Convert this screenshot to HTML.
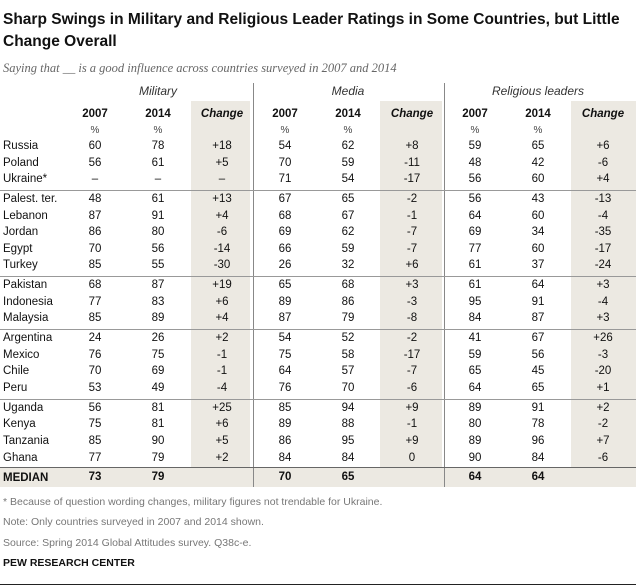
<!DOCTYPE html>
<html><head><meta charset="utf-8"><style>
body{margin:0;width:636px;height:586px;background:#fff;position:relative;font-family:"Liberation Sans",sans-serif;color:#111;overflow:hidden}
.a{position:absolute;white-space:nowrap}
.c{position:absolute;transform:translateX(-50%);white-space:nowrap;font-size:11.5px}
.sh{position:absolute;background:#ece9e2}
.hl{position:absolute;left:0;width:636px;height:1px;background:#999}
.vl{position:absolute;width:1px;background:#888}
.fn{position:absolute;left:3px;font-size:10.5px;color:#777}
</style></head><body>
<div class="a" style="left:3px;top:9px;font-size:15.5px;font-weight:bold;line-height:22px;white-space:normal;width:630px">Sharp Swings in Military and Religious Leader Ratings in Some Countries, but Little Change Overall</div>
<div class="a" style="left:3px;top:61px;font-family:'Liberation Serif',serif;font-style:italic;font-size:12.5px;color:#666">Saying that __ is a good influence across countries surveyed in 2007 and 2014</div>
<div id="t"></div>
<div class="fn" style="top:496px">* Because of question wording changes, military figures not trendable for Ukraine.</div>
<div class="fn" style="top:516px">Note: Only countries surveyed in 2007 and 2014 shown.</div>
<div class="fn" style="top:537px">Source: Spring 2014 Global Attitudes survey. Q38c-e.</div>
<div class="a" style="left:3px;top:557px;font-size:10.5px;font-weight:bold">PEW RESEARCH CENTER</div>
<div class="hl" style="top:584px;background:#222"></div>
<script>
const countries=["Russia","Poland","Ukraine*","Palest. ter.","Lebanon","Jordan","Egypt","Turkey","Pakistan","Indonesia","Malaysia","Argentina","Mexico","Chile","Peru","Uganda","Kenya","Tanzania","Ghana"];
const mil07=["60","56","–","48","87","86","70","85","68","77","85","24","76","70","53","56","75","85","77"];
const mil14=["78","61","–","61","91","80","56","55","87","83","89","26","75","69","49","81","81","90","79"];
const milCh=["+18","+5","–","+13","+4","-6","-14","-30","+19","+6","+4","+2","-1","-1","-4","+25","+6","+5","+2"];
const med07=["54","70","71","67","68","69","66","26","65","89","87","54","75","64","76","85","89","86","84"];
const med14=["62","59","54","65","67","62","59","32","68","86","79","52","58","57","70","94","88","95","84"];
const medCh=["+8","-11","-17","-2","-1","-7","-7","+6","+3","-3","-8","-2","-17","-7","-6","+9","-1","+9","0"];
const rel07=["59","48","56","56","64","69","77","61","61","95","84","41","59","65","64","89","80","89","90"];
const rel14=["65","42","60","43","60","34","60","37","64","91","87","67","56","45","65","91","78","96","84"];
const relCh=["+6","-6","+4","-13","-4","-35","-17","-24","+3","-4","+3","+26","-3","-20","+1","+2","-2","+7","-6"];
const groupEnds=[2,7,10,14];
const medianRow=["MEDIAN","73","79","","70","65","","64","64",""];
const T=document.getElementById('t');
function add(cls,style,txt,name){const d=document.createElement('div');d.className=cls;d.style.cssText=style;if(txt!==undefined)d.textContent=txt;


T.appendChild(d);return d;}
const colX=[95,158,222,285,348,412,475,538,603];
add('sh','left:0;top:467px;width:636px;height:20px',undefined,'median-row-bg');
[[191,59],[380,62],[571,65]].forEach((s,i)=>add('sh',`left:${s[0]}px;top:101px;width:${s[1]}px;height:366px`,undefined,'change-column-bg'));
[253,444].forEach(x=>add('vl',`left:${x}px;top:83px;height:404px`,undefined,'section-divider'));
["Military","Media","Religious leaders"].forEach((h,i)=>add('c',`left:${colX[i*3+1]}px;top:84px;font-style:italic;font-size:12px;color:#333`,h,'section-header-'+h.toLowerCase().replace(' ','-')));
for(let s=0;s<3;s++){
 add('c',`left:${colX[s*3]}px;top:108px;font-weight:bold;font-size:11.5px`,'2007','year-header-2007');
 add('c',`left:${colX[s*3+1]}px;top:108px;font-weight:bold;font-size:11.5px`,'2014','year-header-2014');
 add('c',`left:${colX[s*3+2]}px;top:108px;font-weight:bold;font-style:italic;font-size:11.5px`,'Change','change-header');
 add('c',`left:${colX[s*3]}px;top:125px;font-size:10px;color:#444`,'%','percent-label');
 add('c',`left:${colX[s*3+1]}px;top:125px;font-size:10px;color:#444`,'%','percent-label');
}
const rowY=[];let y=140;
countries.forEach((c,i)=>{rowY.push(y);y+=16.6;if(groupEnds.includes(i))y+=3.2;});
const cols=[mil07,mil14,milCh,med07,med14,medCh,rel07,rel14,relCh];
countries.forEach((c,i)=>{
 add('a',`left:3px;top:${rowY[i]}px;font-size:11.5px`,c,'country-label');
 cols.forEach((arr,j)=>add('c',`left:${colX[j]}px;top:${rowY[i]}px`,arr[i],'cell-value'));
 if(groupEnds.includes(i))add('hl',`top:${rowY[i]+17}px`,undefined,'group-separator');
});
add('hl','top:467px;background:#666',undefined,'median-separator');
add('a','left:3px;top:472px;font-size:11.5px;font-weight:bold',medianRow[0],'median-label');
medianRow.slice(1).forEach((v,j)=>{if(v)add('c',`left:${colX[j]}px;top:471px;font-weight:bold`,v,'median-value');});
</script>
</body></html>
